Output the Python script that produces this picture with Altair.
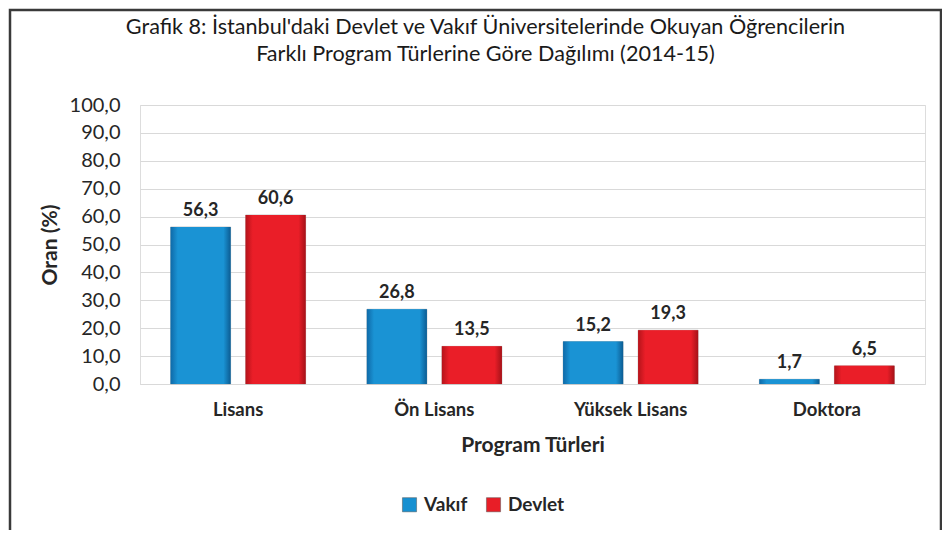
import altair as alt
import pandas as pd

categories = ["Lisans", "Ön Lisans", "Yüksek Lisans", "Doktora"]
series = ["Vakıf", "Devlet"]
vakif = [56.3, 26.8, 15.2, 1.7]
devlet = [60.6, 13.5, 19.3, 6.5]
title_lines = [
    "Grafik 8: İstanbul'daki Devlet ve Vakıf Üniversitelerinde Okuyan Öğrencilerin",
    "Farklı Program Türlerine Göre Dağılımı (2014-15)",
]

rows = []
for i, c in enumerate(categories):
    rows.append({"Program": c, "Tür": series[0], "Oran": vakif[i]})
    rows.append({"Program": c, "Tür": series[1], "Oran": devlet[i]})
df = pd.DataFrame(rows)

FONT = "Lato"
TXT = "#262626"
BLUE = "#1790d1"
RED = "#e81e27"

W, H = 785, 279

x_enc = alt.X("Program:N", sort=categories,
              scale=alt.Scale(paddingInner=0.312, paddingOuter=0.156),
              axis=alt.Axis(title="Program Türleri", labelAngle=0, labelFont=FONT,
                            labelFontSize=18.5, labelFontWeight="bold", labelColor=TXT,
                            labelPadding=16, titleFont=FONT, titleFontSize=21,
                            titleFontWeight="bold", titleColor=TXT, titlePadding=16,
                            ticks=False, domain=True, domainColor="#d9d9d9"))
xo_enc = alt.XOffset("Tür:N", sort=series, scale=alt.Scale(paddingInner=0.2))
y_enc = alt.Y("Oran:Q", scale=alt.Scale(domain=[0, 100]),
              axis=alt.Axis(title="Oran (%)", values=list(range(0, 101, 10)),
                            labelExpr="replace(format(datum.value, '.1f'), '.', ',')",
                            labelFont=FONT, labelFontSize=20, labelColor=TXT,
                            labelPadding=20, ticks=False, domain=False,
                            gridColor="#d9d9d9", titleFont=FONT, titleFontSize=21,
                            titleFontWeight="bold", titleColor=TXT, titlePadding=9))

base = alt.Chart(df)

bars = base.mark_bar(stroke="#9a9a9a", strokeWidth=0.5).encode(
    x=x_enc, xOffset=xo_enc, y=y_enc,
    color=alt.Color("Tür:N", sort=series,
                    scale=alt.Scale(domain=series, range=[BLUE, RED]),
                    legend=alt.Legend(title=None, orient="none", direction="horizontal",
                                      legendX=260, legendY=390, symbolType="square",
                                      symbolSize=200, symbolStrokeWidth=0.5,
                                      symbolStrokeColor="#555555",
                                      labelFont=FONT, labelFontSize=19,
                                      labelFontWeight="bold", labelColor=TXT,
                                      labelOffset=5, columnPadding=16)),
)

grad_blue = {"gradient": "linear", "x1": 0, "y1": 0, "x2": 1, "y2": 0,
             "stops": [{"offset": 0, "color": "#0f6aa8"},
                       {"offset": 0.12, "color": "#1a93d4"},
                       {"offset": 0.88, "color": "#1a93d4"},
                       {"offset": 1, "color": "#0c5c93"}]}
grad_red = {"gradient": "linear", "x1": 0, "y1": 0, "x2": 1, "y2": 0,
            "stops": [{"offset": 0, "color": "#b5141b"},
                      {"offset": 0.12, "color": "#ea1e28"},
                      {"offset": 0.88, "color": "#ea1e28"},
                      {"offset": 1, "color": "#a51218"}]}

over_b = base.transform_filter(alt.datum["Tür"] == series[0]).mark_bar(
    fill=grad_blue).encode(x=x_enc, xOffset=xo_enc, y=y_enc)
over_r = base.transform_filter(alt.datum["Tür"] == series[1]).mark_bar(
    fill=grad_red).encode(x=x_enc, xOffset=xo_enc, y=y_enc)

labels = base.transform_calculate(
    lbl="replace(format(datum.Oran, '.1f'), '.', ',')"
).mark_text(font=FONT, fontSize=18, fontWeight="bold", color=TXT,
            baseline="alphabetic", dy=-11).encode(
    x=x_enc, xOffset=xo_enc, y=y_enc, text="lbl:N")

border = alt.Chart(pd.DataFrame({"a": [0]})).mark_rect(
    fill=None, stroke="#3a3a3a", strokeWidth=2.5).encode(
    x=alt.value(-130), x2=alt.value(W + 16), y=alt.value(-95), y2=alt.value(H + 200))

chart = alt.layer(border, bars, over_b, over_r, labels).properties(
    width=W, height=H,
    title=alt.TitleParams(text=title_lines, font=FONT, fontSize=21.6, fontWeight="normal",
                          color="#1a1a1a", anchor="middle", frame="group", dx=-47,
                          offset=-57, lineHeight=27),
    autosize=alt.AutoSizeParams(type="none"),
    padding={"left": 132, "right": 17, "top": 97, "bottom": 146},
).configure_view(stroke=None).configure(background="white")

chart.save("out.html", embed_options={"renderer": "svg", "actions": False})
